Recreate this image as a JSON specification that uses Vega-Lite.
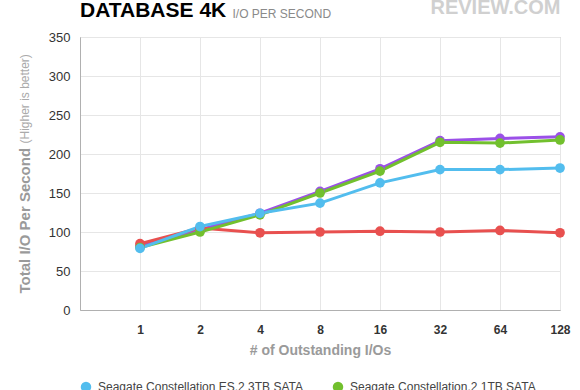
{
  "$schema": "https://vega.github.io/schema/vega-lite/v6.json",
  "width": 480,
  "height": 273,
  "autosize": {"type": "none"},
  "padding": {"left": 80, "top": 37, "right": 20, "bottom": 80},
  "background": "white",
  "config": {
    "font": "Liberation Sans",
    "view": {"stroke": "#b0b0b0", "strokeWidth": 1}
  },
  "title": {
    "text": "DATABASE 4K",
    "anchor": "start",
    "frame": "group",
    "font": "Liberation Sans",
    "fontSize": 21,
    "fontWeight": "bold",
    "color": "#000000",
    "offset": -24
  },
  "datasets": {
    "iops": [
      {"ios": 1, "series": "Seagate Constellation ES.2 3TB SAS", "value": 82},
      {"ios": 2, "series": "Seagate Constellation ES.2 3TB SAS", "value": 103},
      {"ios": 4, "series": "Seagate Constellation ES.2 3TB SAS", "value": 124},
      {"ios": 8, "series": "Seagate Constellation ES.2 3TB SAS", "value": 152},
      {"ios": 16, "series": "Seagate Constellation ES.2 3TB SAS", "value": 181},
      {"ios": 32, "series": "Seagate Constellation ES.2 3TB SAS", "value": 217},
      {"ios": 64, "series": "Seagate Constellation ES.2 3TB SAS", "value": 220},
      {"ios": 128, "series": "Seagate Constellation ES.2 3TB SAS", "value": 222},
      {"ios": 1, "series": "Seagate Constellation.2 1TB SAS", "value": 85},
      {"ios": 2, "series": "Seagate Constellation.2 1TB SAS", "value": 105},
      {"ios": 4, "series": "Seagate Constellation.2 1TB SAS", "value": 99},
      {"ios": 8, "series": "Seagate Constellation.2 1TB SAS", "value": 100},
      {"ios": 16, "series": "Seagate Constellation.2 1TB SAS", "value": 101},
      {"ios": 32, "series": "Seagate Constellation.2 1TB SAS", "value": 100},
      {"ios": 64, "series": "Seagate Constellation.2 1TB SAS", "value": 102},
      {"ios": 128, "series": "Seagate Constellation.2 1TB SAS", "value": 99},
      {"ios": 1, "series": "Seagate Constellation.2 1TB SATA", "value": 80},
      {"ios": 2, "series": "Seagate Constellation.2 1TB SATA", "value": 100},
      {"ios": 4, "series": "Seagate Constellation.2 1TB SATA", "value": 122},
      {"ios": 8, "series": "Seagate Constellation.2 1TB SATA", "value": 150},
      {"ios": 16, "series": "Seagate Constellation.2 1TB SATA", "value": 178},
      {"ios": 32, "series": "Seagate Constellation.2 1TB SATA", "value": 215},
      {"ios": 64, "series": "Seagate Constellation.2 1TB SATA", "value": 214},
      {"ios": 128, "series": "Seagate Constellation.2 1TB SATA", "value": 218},
      {"ios": 1, "series": "Seagate Constellation ES.2 3TB SATA", "value": 79},
      {"ios": 2, "series": "Seagate Constellation ES.2 3TB SATA", "value": 107},
      {"ios": 4, "series": "Seagate Constellation ES.2 3TB SATA", "value": 124},
      {"ios": 8, "series": "Seagate Constellation ES.2 3TB SATA", "value": 137},
      {"ios": 16, "series": "Seagate Constellation ES.2 3TB SATA", "value": 163},
      {"ios": 32, "series": "Seagate Constellation ES.2 3TB SATA", "value": 180},
      {"ios": 64, "series": "Seagate Constellation ES.2 3TB SATA", "value": 180},
      {"ios": 128, "series": "Seagate Constellation ES.2 3TB SATA", "value": 182}
    ]
  },
  "data": {"name": "iops"},
  "encoding": {
    "x": {
      "field": "ios",
      "type": "quantitative",
      "scale": {"type": "log", "base": 2, "domain": [0.5, 128], "nice": false},
      "axis": null
    },
    "y": {
      "field": "value",
      "type": "quantitative",
      "scale": {"domain": [0, 350], "nice": false},
      "axis": null
    },
    "color": {
      "field": "series",
      "type": "nominal",
      "scale": {
        "domain": [
          "Seagate Constellation ES.2 3TB SATA",
          "Seagate Constellation.2 1TB SATA",
          "Seagate Constellation ES.2 3TB SAS",
          "Seagate Constellation.2 1TB SAS"
        ],
        "range": ["#52bdee", "#72c02e", "#9b50e8", "#e8504f"]
      },
      "legend": {
        "title": null,
        "orient": "none",
        "legendX": 0,
        "legendY": 344,
        "direction": "horizontal",
        "columns": 2,
        "columnPadding": 28,
        "rowPadding": 8,
        "symbolType": "circle",
        "symbolSize": 110,
        "symbolStrokeWidth": 0,
        "labelFont": "Liberation Sans",
        "labelFontSize": 12,
        "labelColor": "#444444",
        "labelLimit": 400,
        "labelOffset": 6
      }
    }
  },
  "layer": [
    {
      "mark": {"type": "line", "strokeWidth": 3, "interpolate": "linear"},
      "encoding": {
        "x": {
          "field": "ios",
          "type": "quantitative",
          "scale": {"type": "log", "base": 2, "domain": [0.5, 128], "nice": false},
          "axis": {
            "orient": "bottom",
            "values": [1, 2, 4, 8, 16, 32, 64, 128],
            "title": "# of Outstanding I/Os",
            "titleFont": "Liberation Sans",
            "titleFontSize": 14,
            "titleFontWeight": "bold",
            "titleColor": "#9a9a9a",
            "titlePadding": 8,
            "labelFont": "Liberation Sans",
            "labelFontSize": 12,
            "labelFontWeight": 600,
            "labelColor": "#333333",
            "labelPadding": 14,
            "ticks": false,
            "domainColor": "#b0b0b0",
            "gridColor": "#e6e6e6",
            "labelFlush": false
          }
        },
        "y": {
          "field": "value",
          "type": "quantitative",
          "scale": {"domain": [0, 350], "nice": false},
          "axis": {
            "orient": "left",
            "values": [0, 50, 100, 150, 200, 250, 300, 350],
            "title": "Total I/O Per Second",
            "titleFont": "Liberation Sans",
            "titleFontSize": 15,
            "titleFontWeight": "bold",
            "titleColor": "#9a9a9a",
            "titleAngle": -90,
            "titleAlign": "left",
            "titleBaseline": "middle",
            "titleX": -56,
            "titleY": 256,
            "labelFont": "Liberation Sans",
            "labelFontSize": 13,
            "labelColor": "#333333",
            "labelPadding": 10,
            "ticks": false,
            "domainColor": "#b0b0b0",
            "gridColor": "#e6e6e6",
            "labelFlush": false
          }
        }
      }
    },
    {
      "mark": {"type": "point", "filled": true, "size": 95, "opacity": 1}
    },
    {
      "mark": {"type": "point", "opacity": 0},
      "encoding": {
        "x": {
          "field": "ios",
          "type": "quantitative",
          "scale": {"type": "log", "base": 2, "domain": [0.5, 128], "nice": false},
          "axis": {
            "orient": "top",
            "labels": false,
            "ticks": false,
            "domain": false,
            "grid": false,
            "title": "REVIEW.COM",
            "titleAnchor": "end",
            "titleFont": "Liberation Sans",
            "titleFontSize": 20,
            "titleFontWeight": "bold",
            "titleColor": "#d0d0d0",
            "titlePadding": 20
          }
        },
        "y": {
          "field": "value",
          "type": "quantitative",
          "scale": {"domain": [0, 350], "nice": false},
          "axis": {
            "orient": "left",
            "labels": false,
            "ticks": false,
            "domain": false,
            "grid": false,
            "title": "(Higher is better)",
            "titleFont": "Liberation Sans",
            "titleFontSize": 12,
            "titleFontWeight": "normal",
            "titleColor": "#aaaaaa",
            "titleAngle": -90,
            "titleAlign": "left",
            "titleBaseline": "middle",
            "titleX": -56,
            "titleY": 106
          }
        }
      }
    },
    {
      "mark": {"type": "point", "opacity": 0},
      "encoding": {
        "x": {
          "field": "ios",
          "type": "quantitative",
          "scale": {"type": "log", "base": 2, "domain": [0.5, 128], "nice": false},
          "axis": {
            "orient": "top",
            "labels": false,
            "ticks": false,
            "domain": false,
            "grid": false,
            "title": "I/O PER SECOND",
            "titleFont": "Liberation Sans",
            "titleFontSize": 12,
            "titleFontWeight": "normal",
            "titleColor": "#8a8a8a",
            "titleAngle": 0,
            "titleAlign": "left",
            "titleBaseline": "alphabetic",
            "titleX": 152,
            "titleY": -20
          }
        }
      }
    }
  ],
  "resolve": {"axis": {"x": "independent", "y": "independent"}}
}
